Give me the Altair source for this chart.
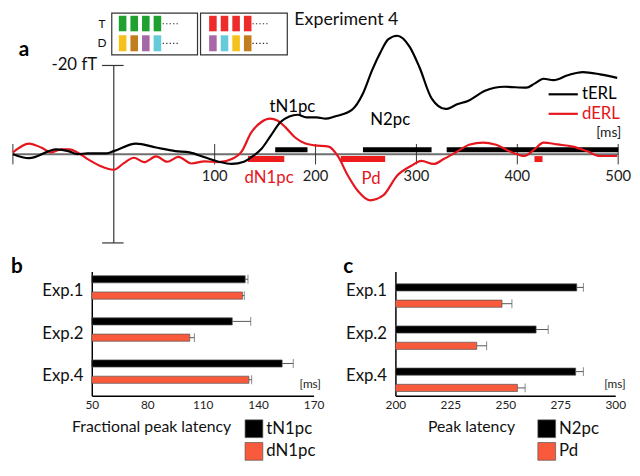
import altair as alt
import pandas as pd

FONT = "Lato"
RED_LINE = "#e5161d"
RED_BAR = "#f95a3c"

# ---------------- panel a : waveforms ----------------
t_terl = [-100, -84, -57, -45, -36, -26, -7, 0, 22, 42, 61, 75, 90, 104, 117, 129, 138, 146,
          156, 165, 174, 182, 191, 201, 210, 219, 236, 247, 256, 264, 272, 281, 293, 303,
          315, 329, 341, 351, 368, 387, 409, 417, 426, 436, 450, 465, 482, 499]
v_terl = [0, 0.9, -1.1, -0.7, 0, -0.2, -0.2, -0.7, -2.4, -1.5, -0.7, -0.4, 0.7, 1.7, 2.2, 1.7, 0.4, -1.1,
          -4.3, -7.2, -8.5, -8.9, -8.3, -8.3, -8.0, -8.5, -10.0, -13.7, -18.9, -22.8, -25.9, -26.7, -24.3, -19.6,
          -12.6, -10.2, -11.3, -12.0, -14.3, -15.2, -15.0, -15.9, -17.0, -16.7, -17.8, -18.5, -18.0, -17.2]

t_derl = [-100, -84, -72, -62, -52, -44, -36, -26, -14, 0, 10, 20, 30, 42, 53, 64, 77, 90, 104, 117,
          127, 136, 146, 155, 162, 170, 180, 190, 199, 213, 222, 232, 242, 254, 267, 281, 295, 305,
          317, 327, 339, 353, 366, 378, 395, 407, 417, 426, 440, 455, 469, 482, 499]
v_derl = [-0.4, -2.4, -1.5, -0.4, -1.1, -1.1, -0.4, 1.1, 2.6, 3.5, 2.0, 0.8, 1.8, 0.5, 1.7, 0.6, 2.1, 1.6, 1.8, 1.1,
          -0.7, -4.8, -7.2, -8.0, -7.6, -6.1, -3.7, -2.4, -2.0, -1.7, 0.4, 4.8, 8.3, 10.4, 9.3, 4.8, 2.6, 1.5,
          2.2, 1.1, -0.4, -2.2, -2.6, -2.2, -0.4, 0.4, -1.1, -2.6, -2.2, -1.7, -0.7, 0.4, 0.4]

# significance bars (ms)
sig_t_start = [160, 247, 330]
sig_t_end = [192, 315, 500]
sig_d_start = [133, 225, 417]
sig_d_end = [169, 269, 425]

tick_ms = [-100, 100, 200, 300, 400, 500]
tick_labels = ["100", "200", "300", "400", "500"]

# ---------------- panels b, c : bars ----------------
exps = ["Exp.1", "Exp.2", "Exp.4"]
b_series = ["tN1pc", "dN1pc"]
b_t = [133, 126, 153]
b_t_err = [1.5, 10, 6]
b_d = [131.5, 103, 135]
b_d_err = [1, 2.5, 1.5]

c_series = ["N2pc", "Pd"]
c_n = [282.5, 264, 282]
c_n_err = [3, 5.5, 3.5]
c_p = [248.5, 237, 255.5]
c_p_err = [4.5, 4.5, 3.5]

# ================= panel a =================
# plot area starts where panel b's plot starts; the first 80 px of the time axis sit left of it
XS = alt.Scale(domain=[-21.8, 500], nice=False, zero=False)
YS = alt.Scale(domain=[-32, 22.44], nice=False, zero=False, reverse=True)


def xq(f):
    return alt.X(f, type="quantitative", scale=XS, axis=None)


def yq(f):
    return alt.Y(f, type="quantitative", scale=YS, axis=None)


baseline = alt.Chart(pd.DataFrame({"t": [-100], "t2": [500], "v": [0]})).mark_rule(
    color="#6f6f6f", strokeWidth=2).encode(x=xq("t"), x2="t2", y=yq("v"))

ticks = alt.Chart(pd.DataFrame({"t": tick_ms, "v1": [-2.3] * 6, "v2": [2.3] * 6})).mark_rule(
    color="#333333", strokeWidth=1).encode(x=xq("t"), y=yq("v1"), y2="v2")

tick_text = alt.Chart(pd.DataFrame({"t": tick_ms[1:], "v": [5.0] * 5, "lab": tick_labels})).mark_text(
    fontSize=15, color="#222222", baseline="middle", align="center").encode(x=xq("t"), y=yq("v"), text="lab")

vaxis = alt.Chart(pd.DataFrame({"t": [0], "v1": [-20], "v2": [20]})).mark_rule(
    color="#333333", strokeWidth=1.2).encode(x=xq("t"), y=yq("v1"), y2="v2")

caps = alt.Chart(pd.DataFrame({"t1": [-11.6, -11.6], "t2": [9.7, 9.7], "v": [-20, 20]})).mark_rule(
    color="#333333", strokeWidth=1.2).encode(x=xq("t1"), x2="t2", y=yq("v"))

ft_label = alt.Chart(pd.DataFrame({"t": [-16.5], "v": [-20], "lab": ["-20 fT"]})).mark_text(
    fontSize=17, color="#111111", align="right", baseline="middle").encode(x=xq("t"), y=yq("v"), text="lab")

line_t = alt.Chart(pd.DataFrame({"t": t_terl, "v": v_terl})).mark_line(
    color="#000000", strokeWidth=2.2, interpolate="monotone").encode(x=xq("t"), y=yq("v"))
line_d = alt.Chart(pd.DataFrame({"t": t_derl, "v": v_derl})).mark_line(
    color=RED_LINE, strokeWidth=2.2, interpolate="monotone").encode(x=xq("t"), y=yq("v"))

sig_t = alt.Chart(pd.DataFrame({"t1": sig_t_start, "t2": sig_t_end, "v": [-1.0] * 3})).mark_rule(
    color="#000000", strokeWidth=5).encode(x=xq("t1"), x2="t2", y=yq("v"))
sig_d = alt.Chart(pd.DataFrame({"t1": sig_d_start, "t2": sig_d_end, "v": [1.1] * 3})).mark_rule(
    color="#ee1c1c", strokeWidth=6).encode(x=xq("t1"), x2="t2", y=yq("v"))

annot = pd.DataFrame({
    "t": [177, 274, 154, 255],
    "v": [-10.7, -7.8, 5.4, 5.7],
    "lab": ["tN1pc", "N2pc", "dN1pc", "Pd"],
    "col": ["#000000", "#000000", RED_LINE, RED_LINE],
})
annot_text = alt.Chart(annot).mark_text(fontSize=17, baseline="middle", align="center").encode(
    x=xq("t"), y=yq("v"), text="lab", color=alt.Color("col:N", scale=None))

leg_lines = alt.Chart(pd.DataFrame({"t1": [431, 431], "t2": [460, 460], "v": [-13.5, -9.1],
                                    "col": ["#000000", RED_LINE]})).mark_rule(strokeWidth=2.2).encode(
    x=xq("t1"), x2="t2", y=yq("v"), color=alt.Color("col:N", scale=None))
leg_text = alt.Chart(pd.DataFrame({"t": [464, 464], "v": [-13.5, -9.1], "lab": ["tERL", "dERL"],
                                   "col": ["#000000", RED_LINE]})).mark_text(
    fontSize=17, align="left", baseline="middle").encode(
    x=xq("t"), y=yq("v"), text="lab", color=alt.Color("col:N", scale=None))

ms_text = alt.Chart(pd.DataFrame({"t": [503], "v": [-4.7], "lab": ["[ms]"]})).mark_text(
    fontSize=14, align="right", baseline="middle", color="#222222").encode(x=xq("t"), y=yq("v"), text="lab")

# stimulus schematic
boxes = alt.Chart(pd.DataFrame({"t1": [-2, 86], "t2": [83, 172], "v1": [-31.8, -31.8], "v2": [-22.4, -22.4]})).mark_rect(
    fill="white", fillOpacity=0, stroke="#333333", strokeWidth=1.2).encode(x=xq("t1"), x2="t2", y=yq("v1"), y2="v2")

sq_start = [5, 16.5, 28, 39.5, 94.5, 106, 117.5, 129]
sq_T_cols = ["#1ea12f"] * 4 + ["#ee2b2b"] * 4
sq_D_cols = ["#f5c21b", "#c27d1c", "#a668a6", "#66cbd9", "#a668a6", "#66cbd9", "#f5c21b", "#c27d1c"]
sq_df = pd.DataFrame({
    "t1": sq_start * 2,
    "t2": [s + 7.5 for s in sq_start] * 2,
    "v1": [-31.2] * 8 + [-26.8] * 8,
    "v2": [-27.7] * 8 + [-23.2] * 8,
    "col": sq_T_cols + sq_D_cols,
})
squares = alt.Chart(sq_df).mark_rect().encode(x=xq("t1"), x2="t2", y=yq("v1"), y2="v2",
                                              color=alt.Color("col:N", scale=None))
dots = alt.Chart(pd.DataFrame({"t1": [48.5, 48.5, 137.5, 137.5], "t2": [64, 64, 153, 153],
                               "v": [-29.4, -25.0, -29.4, -25.0]})).mark_rule(
    color="#333333", strokeWidth=1.2, strokeDash=[1.3, 2.2]).encode(x=xq("t1"), x2="t2", y=yq("v"))
td_text = alt.Chart(pd.DataFrame({"t": [-11.6, -11.6], "v": [-29.4, -25.0], "lab": ["T", "D"]})).mark_text(
    fontSize=12, align="center", baseline="middle", color="#111111").encode(x=xq("t"), y=yq("v"), text="lab")
exp_title = alt.Chart(pd.DataFrame({"t": [179], "v": [-30.2], "lab": ["Experiment 4"]})).mark_text(
    fontSize=18, align="left", baseline="middle", color="#111111").encode(x=xq("t"), y=yq("v"), text="lab")
letter_a = alt.Chart(pd.DataFrame({"t": [-89], "v": [-23.5], "lab": ["a"]})).mark_text(
    fontSize=21, fontWeight="bold", align="center", baseline="middle", color="#000000").encode(
    x=xq("t"), y=yq("v"), text="lab")

top = alt.layer(
    baseline, ticks, vaxis, caps, tick_text, ft_label,
    sig_t, sig_d, line_d, line_t, annot_text, leg_lines, leg_text, ms_text,
    boxes, squares, dots, td_text, exp_title, letter_a,
).properties(width=534, height=245)


# ================= panels b, c =================
def bar_panel(letter, series, v1, e1, v2, e2, xdom, xticks, width, ltitle, lx, ltp, letter_dx, ms_x):
    df = pd.DataFrame({
        "exp": exps * 2,
        "series": [series[0]] * 3 + [series[1]] * 3,
        "value": v1 + v2,
        "err": e1 + e2,
    })
    df["hi"] = df["value"] + df["err"]
    y = alt.Y("exp:N", sort=exps, scale=alt.Scale(paddingInner=0.25, paddingOuter=0.1),
              axis=alt.Axis(title=None, ticks=False, labelPadding=9, labelFontSize=17, labelColor="#111111",
                            domainColor="#000000", domainWidth=1.5, grid=False))
    yo = alt.YOffset("series:N", sort=series, scale=alt.Scale(paddingInner=0.12, paddingOuter=0))
    xs = alt.Scale(domain=xdom, nice=False, zero=False)
    xaxis = alt.Axis(values=xticks, ticks=False, labelPadding=4, labelFontSize=12, labelColor="#222222",
                     labelFlush=False, domainColor="#000000", domainWidth=1.5, grid=False,
                     title="[ms]", titleFontSize=12, titleFontWeight="normal", titleAlign="right",
                     titleBaseline="middle", titleX=ms_x, titleY=-12, titleColor="#222222")

    def xe(f):
        return alt.X(f, type="quantitative", scale=xs, axis=xaxis)

    base = alt.Chart(df)
    bars = base.mark_bar(stroke="#555555", strokeWidth=0.7).encode(
        y=y, yOffset=yo, x=xe("value"), x2=alt.datum(xdom[0]),
        color=alt.Color("series:N", sort=series,
                        scale=alt.Scale(domain=series, range=["#000000", RED_BAR]),
                        legend=alt.Legend(orient="none", legendX=lx, legendY=150, title=ltitle,
                                          titleOrient="left", titleFontSize=16, titleFontWeight="normal",
                                          titleColor="#111111", titlePadding=ltp, titleAnchor="start",
                                          titleBaseline="top",
                                          labelFontSize=17, labelColor="#111111", labelOffset=3,
                                          symbolType="square", symbolSize=324, symbolStrokeColor="#555555",
                                          symbolStrokeWidth=0.7, symbolOpacity=1, rowPadding=2, padding=0)))
    whisk = base.mark_rule(color="#555555", strokeWidth=1).encode(y=y, yOffset=yo, x=xe("value"), x2="hi:Q")
    capm = base.mark_tick(color="#555555", thickness=1, size=9).encode(y=y, yOffset=yo, x=xe("hi"))
    return alt.layer(bars, whisk, capm).properties(
        width=width, height=126,
        title=alt.TitleParams(letter, anchor="start", frame="group", fontSize=21, fontWeight="bold",
                              offset=0, dx=letter_dx, dy=23, baseline="alphabetic", color="#000000"))


pb = bar_panel("b", b_series, b_t, b_t_err, b_d, b_d_err, [50, 170], [50, 80, 110, 140, 170], 225,
               "Fractional peak latency", -20, 13, -82, 232)
pc = bar_panel("c", c_series, c_n, c_n_err, c_p, c_p_err, [200, 300], [200, 225, 250, 275, 300], 223,
               "Peak latency", 33, 22, -53, 233)

bottom = alt.hconcat(pb, pc, spacing=19).resolve_scale(color="independent").resolve_legend(color="independent")

chart = alt.vconcat(top, bottom, spacing=3).properties(padding=0).configure(
    font=FONT).configure_view(strokeWidth=0)

chart.save("out.html", embed_options={"renderer": "svg", "actions": False})
